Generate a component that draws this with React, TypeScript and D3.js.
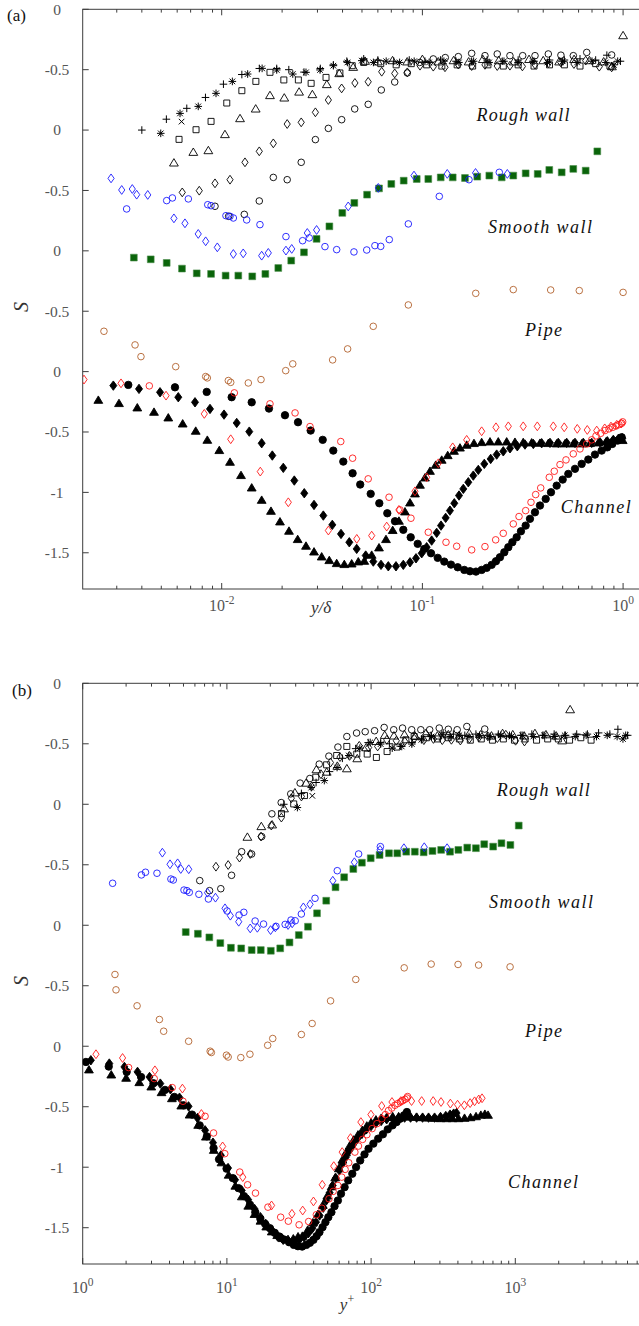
import React from 'react';
import * as d3 from 'd3';

type P = [number, number];

// all series read as [y/delta, S]; panel (b) plots y+ = (y/delta) * Re_tau
// rough wall (black, open)
const roughPlus: P[] = [
  [0.004, -1.0], [0.0053, -0.91], [0.0067, -0.82], [0.0083, -0.73], [0.0102, -0.62], [0.0126, -0.54],
  [0.0154, -0.49], [0.0188, -0.49], [0.0216, -0.5], [0.0257, -0.52], [0.031, -0.49], [0.036, -0.46],
  [0.042, -0.43], [0.051, -0.41], [0.06, -0.42], [0.072, -0.43], [0.086, -0.42], [0.103, -0.43],
  [0.123, -0.42], [0.147, -0.43], [0.176, -0.43], [0.21, -0.42], [0.25, -0.43], [0.3, -0.42],
  [0.36, -0.43], [0.43, -0.42], [0.51, -0.42], [0.61, -0.41], [0.73, -0.42], [0.83, -0.38], [0.97, -0.43],
];
const roughStar: P[] = [
  [0.00497, -1.027], [0.0062, -0.862], [0.00764, -0.804], [0.00937, -0.696], [0.0113, -0.597],
  [0.01347, -0.536], [0.0159, -0.489], [0.0188, -0.502], [0.0226, -0.536], [0.0263, -0.522],
  [0.0309, -0.502], [0.036, -0.467], [0.0423, -0.44], [0.0499, -0.425], [0.057, -0.44], [0.066, -0.43],
  [0.077, -0.44], [0.091, -0.43], [0.108, -0.44], [0.128, -0.43], [0.152, -0.44], [0.18, -0.43],
  [0.215, -0.44], [0.255, -0.43], [0.3, -0.44], [0.355, -0.43], [0.42, -0.44], [0.5, -0.43],
  [0.59, -0.44], [0.7, -0.43], [0.82, -0.44], [0.9, -0.46], [0.94, -0.43],
];
const roughCross: P[] = [[0.00631, -0.93]];
const roughSquare: P[] = [
  [0.00613, -1.077], [0.00745, -0.997], [0.00885, -0.928], [0.0106, -0.776], [0.0126, -0.674],
  [0.0148, -0.597], [0.0174, -0.522], [0.0204, -0.585], [0.0241, -0.585], [0.0279, -0.613],
  [0.0331, -0.564], [0.0388, -0.527], [0.0447, -0.467], [0.051, -0.44], [0.062, -0.45], [0.074, -0.46],
  [0.088, -0.45], [0.105, -0.46], [0.125, -0.47], [0.149, -0.46], [0.178, -0.47], [0.212, -0.46],
  [0.253, -0.47], [0.3, -0.46], [0.36, -0.47], [0.43, -0.46], [0.51, -0.46], [0.61, -0.47],
  [0.73, -0.45], [0.86, -0.47],
];
const roughTriangle: P[] = [
  [0.00578, -1.267], [0.00722, -1.179], [0.00858, -1.165], [0.01038, -1.032], [0.01234, -0.9],
  [0.01477, -0.82], [0.0174, -0.709], [0.0205, -0.729], [0.0243, -0.68], [0.0283, -0.701],
  [0.0334, -0.618], [0.0385, -0.527], [0.0452, -0.475], [0.0518, -0.425], [0.06, -0.43], [0.071, -0.42],
  [0.084, -0.43], [0.1, -0.41], [0.12, -0.43], [0.143, -0.42], [0.17, -0.43], [0.2, -0.41],
  [0.24, -0.42], [0.285, -0.43], [0.34, -0.41], [0.4, -0.42], [0.48, -0.43], [0.57, -0.41],
  [0.68, -0.42], [0.8, -0.43], [0.88, -0.47], [1.0, -0.213],
];
const roughDiamond: P[] = [
  [0.00636, -1.516], [0.00773, -1.502], [0.00926, -1.441], [0.011, -1.411], [0.01306, -1.267],
  [0.01539, -1.176], [0.01808, -1.11], [0.0212, -0.95], [0.0249, -0.936], [0.0293, -0.853],
  [0.034, -0.751], [0.0396, -0.655], [0.0461, -0.61], [0.0537, -0.6], [0.0627, -0.517], [0.0728, -0.531],
  [0.0841, -0.522], [0.0973, -0.467], [0.1133, -0.475], [0.1296, -0.48], [0.151, -0.458], [0.176, -0.47],
  [0.205, -0.46], [0.236, -0.47], [0.273, -0.467], [0.315, -0.473], [0.364, -0.458], [0.424, -0.447],
  [0.489, -0.439], [0.569, -0.453], [0.651, -0.425], [0.761, -0.475], [0.877, -0.481],
];
const roughCircle: P[] = [
  [0.00926, -1.631], [0.01083, -1.714], [0.01296, -1.698], [0.01539, -1.587], [0.01808, -1.392],
  [0.0212, -1.411], [0.0249, -1.267], [0.0293, -1.079], [0.034, -0.986], [0.0396, -0.914],
  [0.046, -0.825], [0.0537, -0.787], [0.0624, -0.668], [0.0728, -0.602], [0.0841, -0.527], [0.097, -0.44],
  [0.1133, -0.411], [0.13, -0.4], [0.151, -0.392], [0.176, -0.365], [0.205, -0.384], [0.236, -0.37],
  [0.273, -0.384], [0.316, -0.384], [0.364, -0.384], [0.424, -0.37], [0.49, -0.38], [0.565, -0.384],
  [0.659, -0.357], [0.877, -0.378],
];

// smooth wall
const smoothBlueDiamond: P[] = [
  [0.00281, -0.4], [0.003175, -0.496], [0.003585, -0.488], [0.00377, -0.535], [0.00428, -0.537],
  [0.00578, -0.731], [0.00656, -0.772], [0.00764, -0.86], [0.00832, -0.921], [0.00951, -0.971],
  [0.01143, -1.026], [0.0128, -1.021], [0.01582, -1.04], [0.01707, -1.017], [0.0209, -0.998],
  [0.02233, -0.984], [0.0267, -0.852], [0.0297, -0.827], [0.0427, -0.632], [0.0603, -0.479],
  [0.0908, -0.377], [0.133, -0.363], [0.184, -0.355], [0.265, -0.363],
];
const smoothBlueCircle: P[] = [
  [0.00336, -0.653], [0.00532, -0.584], [0.00568, -0.562], [0.00682, -0.57], [0.00852, -0.618],
  [0.00885, -0.626], [0.0105, -0.709], [0.011, -0.714], [0.01143, -0.728], [0.01332, -0.744],
  [0.01551, -0.783], [0.0209, -0.882], [0.0253, -0.916], [0.0273, -0.893], [0.0327, -0.965],
  [0.0374, -0.99], [0.0456, -1.009], [0.0528, -0.993], [0.058, -0.957], [0.062, -0.963],
  [0.0684, -0.907], [0.0851, -0.777], [0.1214, -0.549], [0.1707, -0.411], [0.2416, -0.35],
];
const smoothGreenSquare: P[] = [
  [0.00365, -1.056], [0.00443, -1.07], [0.00532, -1.1], [0.00634, -1.147], [0.00751, -1.186],
  [0.00885, -1.191], [0.01046, -1.205], [0.0121, -1.205], [0.0142, -1.211], [0.0165, -1.191],
  [0.01914, -1.142], [0.0222, -1.081], [0.0257, -1.012], [0.0297, -0.901], [0.0344, -0.797],
  [0.0399, -0.686], [0.0458, -0.603], [0.053, -0.535], [0.0608, -0.483], [0.07, -0.446],
  [0.0807, -0.419], [0.0937, -0.405], [0.107, -0.405], [0.1234, -0.392], [0.1416, -0.392],
  [0.163, -0.397], [0.1877, -0.386], [0.2155, -0.377], [0.2484, -0.392], [0.2837, -0.377],
  [0.327, -0.358], [0.3754, -0.363], [0.4288, -0.33], [0.4944, -0.35], [0.5647, -0.322],
  [0.651, -0.336], [0.744, -0.176],
];

// pipe
const pipeCircle: P[] = [
  [0.00182, -0.407], [0.00185, -0.534], [0.00259, -0.666], [0.0037, -0.779], [0.00396, -0.876],
  [0.0059, -0.959], [0.00832, -1.041], [0.00848, -1.052], [0.01079, -1.074], [0.01109, -1.089],
  [0.01357, -1.094], [0.0157, -1.066], [0.02084, -0.992], [0.0226, -0.936], [0.0357, -0.903],
  [0.0424, -0.812], [0.0569, -0.625], [0.0851, -0.448], [0.1844, -0.352], [0.2837, -0.321],
  [0.4357, -0.324], [0.605, -0.329], [1.0, -0.344],
];

// channel
const chanRedDiamond: P[] = [
  [0.00206, -0.066], [0.00315, -0.097], [0.00528, -0.199], [0.00819, -0.35], [0.01109, -0.56],
  [0.01557, -0.828], [0.02147, -1.082], [0.034, -1.316], [0.0471, -1.385], [0.0559, -1.358],
  [0.0664, -1.283], [0.0764, -1.145], [0.0918, -0.991], [0.105, -0.875], [0.12, -0.759],
  [0.1416, -0.627], [0.1662, -0.565], [0.1974, -0.494], [0.2326, -0.461], [0.268, -0.453],
  [0.318, -0.453], [0.3737, -0.453], [0.449, -0.453], [0.509, -0.461], [0.591, -0.474],
  [0.663, -0.483], [0.739, -0.488], [0.81, -0.47], [0.87, -0.455], [0.93, -0.44], [0.98, -0.43],
];
const chanRedCircle: P[] = [
  [0.004358, -0.118], [0.01156, -0.176], [0.0174, -0.267], [0.0232, -0.342], [0.02754, -0.455],
  [0.0392, -0.579], [0.0449, -0.717], [0.0537, -0.888], [0.0682, -1.04], [0.0773, -1.145],
  [0.0877, -1.214], [0.107, -1.33], [0.1311, -1.413], [0.1482, -1.446], [0.176, -1.476],
  [0.205, -1.449], [0.2318, -1.393], [0.2529, -1.339], [0.2837, -1.261], [0.303, -1.2],
  [0.327, -1.151], [0.3476, -1.082], [0.3668, -1.018], [0.3886, -0.963], [0.4288, -0.875],
  [0.4541, -0.825], [0.4849, -0.77], [0.5194, -0.731], [0.5647, -0.681], [0.6098, -0.64],
  [0.6587, -0.599], [0.6976, -0.565], [0.7329, -0.532], [0.7734, -0.511], [0.8126, -0.488],
  [0.8505, -0.474], [0.8875, -0.461], [0.9218, -0.45], [0.9541, -0.439], [0.984, -0.428], [0.995, -0.416],
];
const chanBlackCircle: P[] = [
  [0.003424, -0.11], [0.00585, -0.13], [0.00842, -0.168], [0.01121, -0.212], [0.01411, -0.254],
  [0.0172, -0.306], [0.02067, -0.361], [0.024, -0.419], [0.02775, -0.488], [0.03186, -0.565],
  [0.03597, -0.654], [0.04035, -0.745], [0.0449, -0.842], [0.049, -0.935], [0.05526, -1.012],
  [0.061, -1.09], [0.06685, -1.173], [0.07303, -1.239], [0.08033, -1.31], [0.08744, -1.372],
  [0.09475, -1.426], [0.1022, -1.468], [0.1104, -1.504], [0.1192, -1.542], [0.1285, -1.573],
  [0.1388, -1.598], [0.1499, -1.62], [0.1617, -1.642], [0.1726, -1.653], [0.1849, -1.656],
  [0.1974, -1.642], [0.2091, -1.625], [0.2214, -1.6], [0.2326, -1.57], [0.2435, -1.537],
  [0.2559, -1.496], [0.268, -1.454], [0.2806, -1.413], [0.2949, -1.372], [0.3098, -1.322],
  [0.327, -1.275], [0.3436, -1.219], [0.3639, -1.165], [0.3854, -1.109], [0.4115, -1.054],
  [0.4372, -0.999], [0.4668, -0.944], [0.5, -0.894], [0.5333, -0.847], [0.5759, -0.805],
  [0.6218, -0.764], [0.6708, -0.728], [0.7244, -0.687], [0.7822, -0.654], [0.8344, -0.627],
  [0.8835, -0.599], [0.9399, -0.571], [0.984, -0.544],
];
const chanBlackDiamond: P[] = [
  [0.002884, -0.116], [0.003872, -0.143], [0.004928, -0.171], [0.006077, -0.212], [0.007362, -0.254],
  [0.008743, -0.309], [0.01027, -0.356], [0.01188, -0.425], [0.01372, -0.497], [0.01582, -0.593],
  [0.01787, -0.695], [0.02027, -0.797], [0.023, -0.902], [0.02579, -1.007], [0.02884, -1.104],
  [0.03209, -1.192], [0.03557, -1.269], [0.0393, -1.344], [0.04323, -1.413], [0.04706, -1.468],
  [0.05218, -1.523], [0.05693, -1.573], [0.06219, -1.6], [0.06763, -1.612], [0.07386, -1.612],
  [0.08033, -1.6], [0.08675, -1.579], [0.09292, -1.546], [0.0992, -1.504], [0.105, -1.454],
  [0.1112, -1.399], [0.1178, -1.335], [0.1238, -1.275], [0.1306, -1.211], [0.1372, -1.151],
  [0.1442, -1.09], [0.1522, -1.026], [0.1599, -0.971], [0.1693, -0.916], [0.1793, -0.861],
  [0.1899, -0.814], [0.2034, -0.764], [0.2189, -0.723], [0.2345, -0.687], [0.2529, -0.66],
  [0.2732, -0.635], [0.2971, -0.618], [0.3245, -0.604], [0.357, -0.599], [0.3929, -0.593],
  [0.4323, -0.59], [0.4754, -0.59], [0.5236, -0.59], [0.5759, -0.59], [0.6334, -0.59],
  [0.6976, -0.59], [0.7671, -0.585], [0.8344, -0.577], [0.8939, -0.565], [0.9465, -0.557], [0.9908, -0.552],
];
const chanBlackTriangle: P[] = [
  [0.0017, -0.19], [0.002428, -0.232], [0.003078, -0.259], [0.003797, -0.295], [0.004599, -0.331],
  [0.005418, -0.378], [0.006392, -0.428], [0.007423, -0.488], [0.008479, -0.563], [0.009727, -0.648],
  [0.011, -0.745], [0.01248, -0.855], [0.01411, -0.958], [0.01582, -1.06], [0.0176, -1.151],
  [0.01952, -1.239], [0.02164, -1.316], [0.02391, -1.385], [0.0263, -1.44], [0.02884, -1.488],
  [0.03149, -1.529], [0.03436, -1.559], [0.03741, -1.584], [0.04082, -1.592], [0.04443, -1.587],
  [0.04793, -1.57], [0.05134, -1.565], [0.05589, -1.515], [0.06079, -1.454], [0.06586, -1.385],
  [0.07112, -1.31], [0.07642, -1.233], [0.08188, -1.156], [0.08675, -1.082], [0.09185, -1.007],
  [0.09727, -0.935], [0.103, -0.875], [0.1091, -0.82], [0.1165, -0.77], [0.1248, -0.728],
  [0.1337, -0.69], [0.1437, -0.654], [0.1539, -0.627], [0.1662, -0.604], [0.1807, -0.59],
  [0.1974, -0.582], [0.2172, -0.577], [0.2388, -0.577], [0.263, -0.577], [0.2892, -0.58],
  [0.318, -0.582], [0.3503, -0.585], [0.3854, -0.588], [0.424, -0.59], [0.4668, -0.593],
  [0.5135, -0.593], [0.5647, -0.593], [0.6218, -0.593], [0.684, -0.59], [0.7524, -0.585],
  [0.8218, -0.577], [0.8875, -0.565], [0.9465, -0.557], [0.9954, -0.565],
];

// stacked axis: each group is shifted up by its offset
const yTickValues = [3, 2.5, 2, 1.5, 1, 0.5, 0, -0.5, -1, -1.5];
const yTickLabels = ['0', '-0.5', '0', '-0.5', '0', '-0.5', '0', '-0.5', '-1', '-1.5'];
const groupNames = ['Rough wall', 'Smooth wall', 'Pipe', 'Channel'];
const xExponentsA = [-2, -1, 0];
const xExponentsB = [0, 1, 2, 3];

const BROWN = '#b2622e';
const BLUE = '#1a1aff';
const RED = '#ff1a1a';
const GREEN = '#0a640a';

type Series = { data: P[]; re: number; offset: number; shape: string; color: string; filled: boolean };

const series: Series[] = [
  { data: roughCircle, re: 700, offset: 3, shape: 'circle', color: '#000', filled: false },
  { data: roughDiamond, re: 1320, offset: 3, shape: 'diamond', color: '#000', filled: false },
  { data: roughTriangle, re: 2400, offset: 3, shape: 'triangle', color: '#000', filled: false },
  { data: roughSquare, re: 3900, offset: 3, shape: 'square', color: '#000', filled: false },
  { data: roughCross, re: 6200, offset: 3, shape: 'cross', color: '#000', filled: false },
  { data: roughPlus, re: 6200, offset: 3, shape: 'plus', color: '#000', filled: false },
  { data: roughStar, re: 6200, offset: 3, shape: 'star', color: '#000', filled: false },
  { data: smoothGreenSquare, re: 1420, offset: 2, shape: 'square', color: GREEN, filled: true },
  { data: smoothBlueCircle, re: 480, offset: 2, shape: 'circle', color: BLUE, filled: false },
  { data: smoothBlueDiamond, re: 1270, offset: 2, shape: 'diamond', color: BLUE, filled: false },
  { data: pipeCircle, re: 920, offset: 1, shape: 'circle', color: BROWN, filled: false },
  { data: chanBlackTriangle, re: 650, offset: 0, shape: 'triangle', color: '#000', filled: true },
  { data: chanBlackDiamond, re: 395, offset: 0, shape: 'diamond', color: '#000', filled: true },
  { data: chanBlackCircle, re: 180, offset: 0, shape: 'circle', color: '#000', filled: true },
  { data: chanRedDiamond, re: 600, offset: 0, shape: 'diamond', color: RED, filled: false },
  { data: chanRedCircle, re: 180, offset: 0, shape: 'circle', color: RED, filled: false },
];

function markerPath(shape: string, filled: boolean): string {
  switch (shape) {
    case 'square': {
      const s = filled ? 3.4 : 3;
      return `M${-s},${-s}H${s}V${s}H${-s}Z`;
    }
    case 'triangle': {
      const w = 4.4, h = 3.7;
      return `M0,${-h}L${w},${h}L${-w},${h}Z`;
    }
    case 'diamond': {
      const w = filled ? 3.5 : 3.1, h = filled ? 4.7 : 4.4;
      return `M0,${-h}L${w},0L0,${h}L${-w},0Z`;
    }
    case 'plus':
      return 'M-3.8,0H3.8M0,-3.8V3.8';
    case 'cross':
      return 'M-2.8,-2.8L2.8,2.8M-2.8,2.8L2.8,-2.8';
    case 'star':
      return 'M-3.8,0H3.8M0,-3.8V3.8M-2.8,-2.8L2.8,2.8M-2.8,2.8L2.8,-2.8';
    default:
      return '';
  }
}

type PanelCfg = {
  id: string; tag: string; left: number; right: number; top: number; bottom: number;
  xDomain: [number, number]; usePlus: boolean; exps: number[]; xLabY: number;
  labels: { cx: number; by: number; w: number }[];
  sY: number; tagX: number; tagY: number; xTitleX: number; xTitleY: number;
};

const panels: PanelCfg[] = [
  {
    id: 'a', tag: '(a)', left: 82.7, right: 660, top: 9.3, bottom: 589,
    xDomain: [Math.pow(10, -2.6926), Math.pow(10, 0.1839)], usePlus: false, exps: xExponentsA, xLabY: 611,
    labels: [{ cx: 523, by: 121, w: 93 }, { cx: 540, by: 233, w: 104 }, { cx: 543.5, by: 336, w: 37 }, { cx: 595.7, by: 513, w: 70 }],
    sY: 307, tagX: 7, tagY: 21, xTitleX: 321, xTitleY: 613,
  },
  {
    id: 'b', tag: '(b)', left: 82.7, right: 659.5, top: 683.3, bottom: 1264,
    xDomain: [1, 10000], usePlus: true, exps: xExponentsB, xLabY: 1293,
    labels: [{ cx: 543.3, by: 796, w: 93 }, { cx: 541, by: 908, w: 104 }, { cx: 543.5, by: 1037, w: 37 }, { cx: 543, by: 1188, w: 70 }],
    sY: 981, tagX: 12, tagY: 696, xTitleX: 347, xTitleY: 1310,
  },
];

const AXIS = '#3c3c3c';
const TICKTXT = '#555';
const SERIF = 'Liberation Serif, Times New Roman, Times, serif';

function Panel({ cfg }: { cfg: PanelCfg }) {
  const x = d3.scaleLog().domain(cfg.xDomain).range([cfg.left, cfg.right]);
  const y = d3.scaleLinear().domain([-1.8, 3]).range([cfg.bottom, cfg.top]);
  const xt = x.ticks();
  const isMajor = (t: number) => Math.abs(Math.log10(t) - Math.round(Math.log10(t))) < 1e-6;
  const clipId = `clip-${cfg.id}`;

  return (
    <g>
      <defs>
        <clipPath id={clipId}>
          <rect x={cfg.left} y={cfg.top} width={cfg.right - cfg.left} height={cfg.bottom - cfg.top} />
        </clipPath>
      </defs>
      {/* box */}
      <rect x={cfg.left} y={cfg.top} width={cfg.right - cfg.left} height={cfg.bottom - cfg.top}
        fill="none" stroke={AXIS} strokeWidth={1} />
      {/* x ticks, bottom and top, pointing inward */}
      {xt.map((t, i) => {
        const px = x(t);
        const len = isMajor(t) ? 6 : 3.3;
        return (
          <g key={i} stroke={AXIS} strokeWidth={1}>
            <line x1={px} x2={px} y1={cfg.bottom} y2={cfg.bottom - len} />
            <line x1={px} x2={px} y1={cfg.top} y2={cfg.top + len} />
          </g>
        );
      })}
      {yTickValues.map((v, i) => (
        <line key={i} x1={cfg.left} x2={cfg.left + 6} y1={y(v)} y2={y(v)} stroke={AXIS} strokeWidth={1} />
      ))}
      {yTickValues.map((v, i) => (
        <text key={i} x={57} y={y(v)} dy="0.35em" textAnchor="middle" fontFamily={SERIF}
          fontSize={15.5} fill={TICKTXT}>{yTickLabels[i]}</text>
      ))}
      {cfg.exps.map((e) => (
        <text key={e} x={x(Math.pow(10, e))} y={cfg.xLabY} textAnchor="middle" fontFamily={SERIF}
          fontSize={16} fill={TICKTXT}>
          10<tspan dy={-7} fontSize={11.5}>{e < 0 ? `-${-e}` : `${e}`}</tspan>
        </text>
      ))}
      {/* markers */}
      <g clipPath={`url(#${clipId})`}>
        {series.map((s, si) => (
          <g key={si}>
            {s.data.map((d, di) => {
              const xv = cfg.usePlus ? d[0] * s.re : d[0];
              const px = x(xv);
              const py = y(d[1] + s.offset);
              if (s.shape === 'circle') {
                return (
                  <circle key={di} cx={px} cy={py} r={s.filled ? 3.7 : 3.3}
                    fill={s.filled ? s.color : 'none'} stroke={s.color} strokeWidth={0.9} />
                );
              }
              const line = s.shape === 'plus' || s.shape === 'cross' || s.shape === 'star';
              return (
                <path key={di} d={markerPath(s.shape, s.filled)} transform={`translate(${px},${py})`}
                  fill={s.filled && !line ? s.color : 'none'}
                  stroke={s.shape === 'square' && s.filled ? '#4e8f4e' : s.color}
                  strokeWidth={s.filled && s.shape === 'square' ? 0.6 : line ? 1 : 0.9} />
              );
            })}
          </g>
        ))}
      </g>
      {/* group labels */}
      {cfg.labels.map((l, i) => (
        <text key={i} x={l.cx} y={l.by} textAnchor="middle" fontFamily={SERIF} fontStyle="italic"
          fontSize={18} fill="#111" textLength={l.w} lengthAdjust="spacing">{groupNames[i]}</text>
      ))}
      <text x={cfg.tagX} y={cfg.tagY} fontFamily={SERIF} fontSize={17} fill="#111">{cfg.tag}</text>
      <text transform={`translate(21,${cfg.sY}) rotate(-90)`} textAnchor="middle" dy="0.35em"
        fontFamily={SERIF} fontStyle="italic" fontSize={20} fill="#333">S</text>
      {cfg.usePlus ? (
        <text x={cfg.xTitleX} y={cfg.xTitleY} textAnchor="middle" fontFamily={SERIF} fontStyle="italic"
          fontSize={17} fill="#333">y<tspan dy={-7} fontSize={12} fontStyle="normal">+</tspan></text>
      ) : (
        <text x={cfg.xTitleX} y={cfg.xTitleY} textAnchor="middle" fontFamily={SERIF} fontStyle="italic"
          fontSize={17} fill="#333">y/δ</text>
      )}
    </g>
  );
}

export default function App() {
  return (
    <svg width={639} height={1326} style={{ position: 'absolute', left: 0, top: 0, background: '#fff' }}>
      <rect x={0} y={0} width={639} height={1326} fill="#fff" />
      {panels.map((p) => <Panel key={p.id} cfg={p} />)}
    </svg>
  );
}
